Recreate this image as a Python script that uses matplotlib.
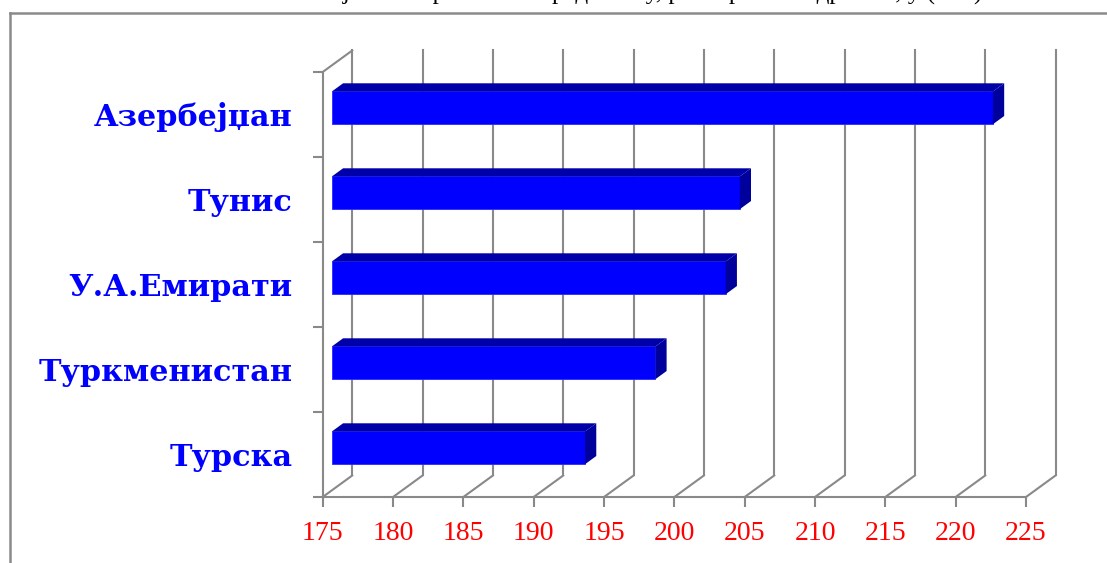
import numpy as np
import matplotlib
matplotlib.use("Agg")
import matplotlib.pyplot as plt
from matplotlib.patches import Polygon
from matplotlib.lines import Line2D

# data
countries = ["Турска", "Туркменистан", "У.А.Емирати", "Тунис", "Азербејџан"]
values = [193, 198, 203, 204, 222]
x_ticks = [175, 180, 185, 190, 195, 200, 205, 210, 215, 220, 225]
title = "Пет земаља са највећом просечном вредношћу, рангирано по држави, у (mm)"

# style
grid_col = "#898989"
front_col = "#0000FF"
top_col = "#0000A8"
side_col = "#00009C"
xmin, xmax = 175, 225

# oblique depth of the 3d box, in data units
DX = 2.1
DY = 0.253
f1, f2 = 0.31, 0.69   # bar front / back depth
bh = 0.385            # bar height

fig = plt.figure(figsize=(11.07, 5.63), dpi=100)
ax = fig.add_axes([322.7 / 1107, 66 / 563, (1026 - 322.7) / 1107, (497 - 72) / 563])
ax.set_xlim(xmin, xmax)
ax.set_ylim(-0.5, len(countries) - 0.5)
ax.set_facecolor("none")

for s in ["top", "right"]:
    ax.spines[s].set_visible(False)
for s in ["left", "bottom"]:
    ax.spines[s].set_color(grid_col)
    ax.spines[s].set_linewidth(1.5)

y0, y1 = -0.5, len(countries) - 0.5

# back wall + floor gridlines
for v in x_ticks:
    ax.plot([v + DX, v + DX], [y0 + DY, y1 + DY], color=grid_col, lw=1.5,
            clip_on=False, zorder=1)
    ax.plot([v, v + DX], [y0, y0 + DY], color=grid_col, lw=1.5,
            clip_on=False, zorder=1)
# left wall top edge
ax.plot([xmin, xmin + DX], [y1, y1 + DY], color=grid_col, lw=1.5,
        clip_on=False, zorder=1)

# bars
dd = (f2 - f1)
for i, v in enumerate(values):
    yc = i + f1 * DY
    ax.barh(yc, v - xmin, left=xmin + f1 * DX, height=bh, color=front_col,
            edgecolor="#2a2aff", linewidth=0.6, zorder=3)
    top = yc + bh / 2
    bot = yc - bh / 2
    ax.add_patch(Polygon([(xmin + f1 * DX, top), (v + f1 * DX, top),
                          (v + f2 * DX, top + dd * DY), (xmin + f2 * DX, top + dd * DY)],
                         closed=True, facecolor=top_col, edgecolor="none",
                         zorder=3, clip_on=False))
    ax.add_patch(Polygon([(v + f1 * DX, bot), (v + f1 * DX, top),
                          (v + f2 * DX, top + dd * DY), (v + f2 * DX, bot + dd * DY)],
                         closed=True, facecolor=side_col, edgecolor="none",
                         zorder=3, clip_on=False))

# ticks
ax.set_xticks(x_ticks)
ax.set_xticklabels([str(t) for t in x_ticks], color="red",
                   fontfamily="Liberation Serif", fontsize=20)
ax.tick_params(axis="x", length=7.2, width=1.5, color=grid_col, pad=10)

ax.set_yticks(range(len(countries)))
ax.set_yticklabels(countries, color=front_col, fontfamily="DejaVu Serif",
                   fontweight="bold", fontsize=21.8)
ax.tick_params(axis="y", which="major", length=0, pad=21.5)
ax.set_yticks(np.arange(y0, y1 + 0.5, 1), minor=True)
ax.tick_params(axis="y", which="minor", length=7.2, width=1.5, color=grid_col)

# outer frame of the chart area (cropped screenshot)
fx = 10 / 1107
fy = 1 - 13 / 563
fig.add_artist(Line2D([fx, fx], [0, fy], color="#8a8a8a", lw=1.8))
fig.add_artist(Line2D([fx, 1], [fy, fy], color="#8a8a8a", lw=1.8))

# title, cut off by the top edge like in the screenshot
fig.text(982 / 1107, 1.0, title, ha="right", va="baseline",
         fontfamily="Liberation Serif", fontsize=18, color="black")

fig.savefig("out.png", dpi=100)
